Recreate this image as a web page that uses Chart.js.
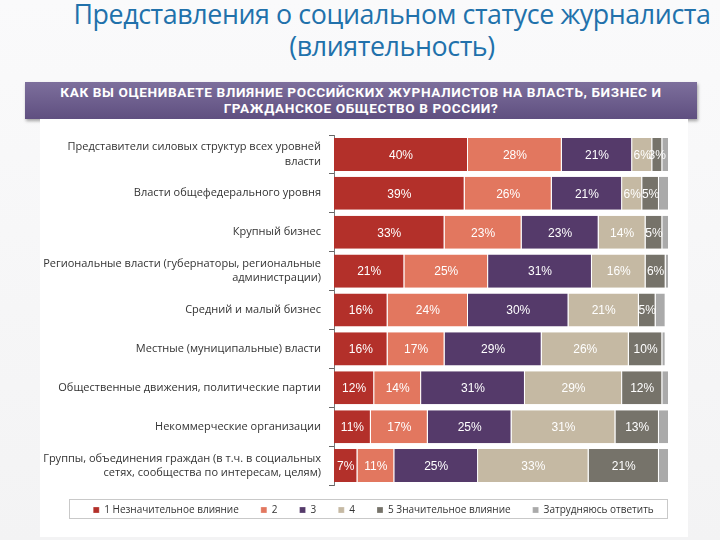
<!DOCTYPE html>
<html>
<head>
<meta charset="utf-8">
<script src="https://cdn.jsdelivr.net/npm/chart.js@4/dist/chart.umd.min.js"></script>
<style>
  html, body { margin: 0; padding: 0; }
  body {
    width: 720px; height: 540px; position: relative; overflow: hidden;
    background: linear-gradient(#fafafb, #f3f3f4);
    font-family: "Open Sans", sans-serif;
  }
  #title {
    position: absolute; left: 64px; top: -2px; width: 656px;
    text-align: center; color: #2171ab; font-size: 26.8px; line-height: 32px;
    font-weight: 400; letter-spacing: -0.4px;
  }
  #banner {
    position: absolute; left: 25px; top: 82px; width: 672px; height: 37px;
    background: linear-gradient(#7d6f9c, #5f4f80);
    box-shadow: 1px 2px 3px rgba(0,0,0,0.35);
    color: #fff; font-family: Roboto, sans-serif; font-weight: 700;
    font-size: 13.6px; line-height: 16px; text-align: center;
    letter-spacing: 0.6px; padding-top: 2px; box-sizing: border-box;
  }
  #panel {
    position: absolute; left: 40px; top: 119px; width: 648px; height: 418px;
    background: #fff;
  }
  canvas { display: block; }
</style>
</head>
<body>
<div id="title">Представления о социальном статусе журналиста<br>(влиятельность)</div>
<div id="banner">КАК ВЫ ОЦЕНИВАЕТЕ ВЛИЯНИЕ РОССИЙСКИХ ЖУРНАЛИСТОВ НА ВЛАСТЬ, БИЗНЕС И<br>ГРАЖДАНСКОЕ ОБЩЕСТВО В РОССИИ?</div>
<div id="panel"><canvas id="chart" width="648" height="418"></canvas></div>
<script>
// --- Data ---
const categories = [
    ['Представители силовых структур всех уровней', 'власти'],
    'Власти общефедерального уровня',
    'Крупный бизнес',
    ['Региональные власти (губернаторы, региональные', 'администрации)'],
    'Средний и малый бизнес',
    'Местные (муниципальные) власти',
    'Общественные движения, политические партии',
    'Некоммерческие организации',
    ['Группы, объединения граждан (в т.ч. в социальных', 'сетях, сообщества по интересам, целям)']
];
const seriesNames = ['1 Незначительное влияние', '2', '3', '4', '5 Значительное влияние', 'Затрудняюсь ответить'];
const level1 = [40, 39, 33, 21, 16, 16, 12, 11, 7];
const level2 = [28, 26, 23, 25, 24, 17, 14, 17, 11];
const level3 = [21, 21, 23, 31, 30, 29, 31, 25, 25];
const level4 = [6, 6, 14, 16, 21, 26, 29, 31, 33];
const level5 = [3, 5, 5, 6, 5, 10, 12, 13, 21];
const hardToSay = [2, 3, 2, 1, 3, 1, 2, 3, 3];

const colors = ['#b3302a', '#e2775f', '#553a6a', '#c5b9a3', '#76736a', '#aaaaaa'];
const allSeries = [level1, level2, level3, level4, level5, hardToSay];

// value labels inside segments (skip the last series)
const segmentLabels = {
    id: 'segmentLabels',
    afterDatasetsDraw(chart) {
        const ctx = chart.ctx;
        ctx.save();
        ctx.fillStyle = '#fff';
        ctx.font = '12px "Liberation Sans", Arial, sans-serif';
        ctx.textAlign = 'center';
        ctx.textBaseline = 'middle';
        chart.data.datasets.forEach((ds, i) => {
            if (i > 4) return;
            chart.getDatasetMeta(i).data.forEach((bar, j) => {
                const p = bar.getCenterPoint();
                ctx.fillText(ds.data[j] + '%', p.x, p.y + 1);
            });
        });
        ctx.restore();
    }
};

// nudge the legend a little and frame it
const LEGEND_DX = 18, LEGEND_DY = -2;
const legendFrame = {
    id: 'legendFrame',
    afterLayout(chart) {
        const lg = chart.legend;
        lg.left += LEGEND_DX;
        lg.right += LEGEND_DX;
        lg.top += LEGEND_DY;
        lg.bottom += LEGEND_DY;
        lg.legendHitBoxes.forEach(b => { b.left += LEGEND_DX; b.top += LEGEND_DY; });
    },
    afterDraw(chart) {
        const boxes = chart.legend && chart.legend.legendHitBoxes;
        if (!boxes || !boxes.length) return;
        const left = Math.min(...boxes.map(b => b.left)) - 24;
        const right = Math.max(...boxes.map(b => b.left + b.width)) + 13;
        const top = boxes[0].top - 4;
        const ctx = chart.ctx;
        ctx.save();
        ctx.strokeStyle = '#c9c9c9';
        ctx.lineWidth = 1;
        ctx.strokeRect(Math.round(left) + 0.5, Math.round(top) + 0.5, Math.round(right - left), 19);
        ctx.restore();
    }
};

new Chart(document.getElementById('chart'), {
    type: 'bar',
    data: {
        labels: categories,
        datasets: allSeries.map((d, i) => ({
            label: seriesNames[i],
            data: d,
            backgroundColor: colors[i],
            borderColor: '#ffffff',
            borderWidth: { right: 1, left: 0, top: 0, bottom: 0 },
            borderSkipped: false,
            categoryPercentage: 0.85,
            barPercentage: 1
        }))
    },
    options: {
        indexAxis: 'y',
        responsive: false,
        animation: false,
        layout: { padding: { top: 16, right: 19, bottom: 10, left: 2 } },
        scales: {
            x: { stacked: true, min: 0, max: 100, display: false },
            y: {
                stacked: true,
                afterFit(scale) {
                    scale.width = 292;
                    scale.paddingTop = 0;
                    scale.paddingBottom = 0;
                },
                grid: { display: true, drawOnChartArea: false, offset: true, tickLength: 5, color: '#666' },
                border: { display: true, color: '#777' },
                ticks: {
                    color: '#333',
                    padding: 8,
                    font: { family: '"Open Sans", sans-serif', size: 11, lineHeight: 1.3 }
                }
            }
        },
        plugins: {
            tooltip: { enabled: false },
            legend: {
                position: 'bottom',
                labels: {
                    boxWidth: 6,
                    boxHeight: 6,
                    padding: 22,
                    color: '#333',
                    font: { family: '"Open Sans", sans-serif', size: 10 }
                }
            }
        }
    },
    plugins: [segmentLabels, legendFrame]
});
</script>
</body>
</html>
